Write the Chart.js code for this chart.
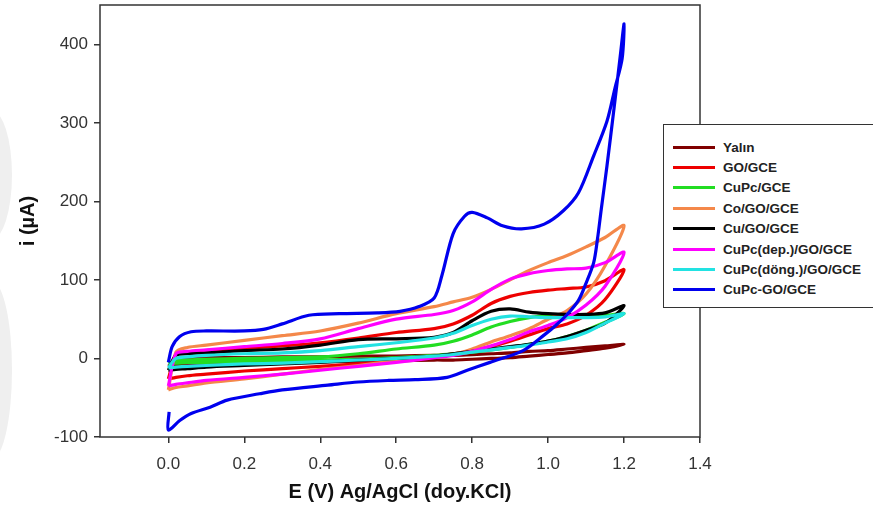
<!DOCTYPE html>
<html>
<head>
<meta charset="utf-8">
<title>CV</title>
<script src="https://cdn.jsdelivr.net/npm/chart.js@4.4.1/dist/chart.umd.min.js"></script>
<style>
  html, body { margin: 0; padding: 0; background: #fff; }
  body { width: 873px; height: 518px; overflow: hidden; position: relative; font-family: "Liberation Sans", Arial, sans-serif; }
  #cv { position: absolute; left: 0; top: 0; }
  .mark { position: absolute; left: -30px; width: 42px; background: #efefef; border-radius: 50%; }
  #legend { position: absolute; left: 663px; top: 124px; width: 230px; height: 184px; box-sizing: border-box;
            border: 1.5px solid #333; background: #fff; padding-top: 12px; }
  #legend .row { display: flex; align-items: center; height: 20.4px; }
  #legend .swatch { width: 42px; height: 3px; margin-left: 9px; margin-right: 8px; }
  #legend .label { font-weight: bold; font-size: 13.5px; color: #222; white-space: nowrap; }
</style>
</head>
<body>
<div class="mark" style="top:110px;height:130px"></div>
<div class="mark" style="top:280px;height:180px"></div>
<canvas id="cv" width="873" height="518"></canvas>
<div id="legend"></div>
<script>
// electrode names, in legend order
const seriesNames = ["Yalın", "GO/GCE", "CuPc/GCE", "Co/GO/GCE", "Cu/GO/GCE",
                     "CuPc(dep.)/GO/GCE", "CuPc(döng.)/GO/GCE", "CuPc-GO/GCE"];
const seriesColors = ["#800000", "#ee0000", "#22dd22", "#f4884a", "#000000",
                      "#ff00ff", "#22e2e2", "#0000ee"];

// potential grid (V): anodic sweep 0 -> 1.2, then back to 0
const forwardE = [0, 0.02, 0.05, 0.1, 0.2, 0.3, 0.4, 0.5, 0.6, 0.7, 0.75, 0.8, 0.85, 0.9, 0.95, 1.0, 1.05, 1.1, 1.15, 1.2];
const reverseE = [1.15, 1.1, 1.05, 1.0, 0.95, 0.9, 0.85, 0.8, 0.75, 0.7, 0.6, 0.5, 0.4, 0.3, 0.2, 0.1, 0.05, 0.02, 0];

// currents (µA) on forwardE / reverseE
const yalinFwd = [-10, -2, 0, 1, 1, 2, 2, 3, 3, 4, 4, 5, 6, 7, 9, 10, 12, 14, 16, 18];
const yalinRev = [13, 10, 7, 5, 3, 1, 0, -1, -2, -2, -3, -4, -4, -5, -6, -7, -8, -9, -10];

const goFwd = [-26, 4, 8, 10, 13, 16, 20, 26, 33, 38, 44, 55, 70, 79, 84, 87, 89, 91, 99, 113];
const goRev = [75, 55, 44, 38, 30, 22, 15, 10, 6, 3, -3, -7, -10, -13, -16, -20, -22, -24, -26];

const cupcFwd = [-6, -3, -2, -1, 0, 1, 2, 6, 12, 17, 22, 30, 40, 47, 52, 55, 55, 55, 55, 57];
const cupcRev = [46, 36, 28, 22, 18, 14, 11, 8, 6, 4, 1, -1, -2, -3, -4, -5, -5, -6, -6];

const coGoFwd = [-40, 8, 14, 17, 23, 29, 35, 45, 57, 66, 72, 78, 88, 100, 112, 122, 131, 142, 154, 169];
const coGoRev = [118, 82, 61, 50, 38, 29, 21, 12, 5, 2, -3, -9, -14, -20, -26, -31, -35, -37, -40];

const cuGoFwd = [-15, 4, 6, 7, 10, 12, 17, 24, 25, 27, 33, 48, 60, 63, 59, 57, 56, 56, 58, 67];
const cuGoRev = [45, 36, 28, 22, 18, 15, 12, 9, 6, 3, 0, -2, -5, -7, -9, -11, -13, -14, -15];

const depFwd = [-35, 6, 9, 11, 15, 19, 25, 38, 50, 56, 61, 72, 88, 101, 108, 112, 114, 115, 122, 135];
const depRev = [92, 68, 52, 42, 34, 24, 16, 9, 4, 1, -5, -10, -15, -20, -24, -28, -31, -33, -35];

const dongFwd = [-12, 0, 2, 4, 6, 7, 10, 15, 20, 26, 32, 42, 50, 54, 53, 52, 52, 52, 53, 57];
const dongRev = [45, 33, 25, 21, 17, 14, 11, 8, 5, 3, 0, -2, -4, -6, -7, -9, -10, -11, -12];

// CuPc-GO/GCE has its own, denser potential grid
const blueFwdE = [0, 0.01, 0.03, 0.06, 0.1, 0.2, 0.25, 0.3, 0.37, 0.45, 0.55, 0.61, 0.66, 0.7, 0.72, 0.75,
                  0.78, 0.8, 0.84, 0.88, 0.93, 0.99, 1.04, 1.08, 1.12, 1.155, 1.176, 1.195, 1.2];
const blueFwdI = [-5, 15, 28, 34, 35, 35, 37, 44, 55, 57, 58, 60, 66, 77, 105, 159,
                  181, 186, 179, 169, 165, 171, 188, 211, 258, 302, 344, 382, 426];
const blueRevE = [1.19, 1.174, 1.155, 1.14, 1.13, 1.12, 1.1, 1.08, 1.05, 1.02, 0.99, 0.934, 0.847, 0.787,
                  0.734, 0.65, 0.58, 0.5, 0.42, 0.3, 0.24, 0.155, 0.11, 0.06, 0.03, 0.0, 0.002];
const blueRevI = [385, 320, 245, 190, 152, 122, 96, 74, 56, 42, 30, 10, -5, -15,
                  -24, -27, -28, -30, -34, -40, -45, -53, -62, -70, -79, -91, -68];

const xTicks = [0, 0.2, 0.4, 0.6, 0.8, 1.0, 1.2, 1.4];
const yTicks = [-100, 0, 100, 200, 300, 400];

function loop(eF, iF, eR, iR) {
  const pts = eF.map((e, k) => ({ x: e, y: iF[k] }));
  eR.forEach((e, k) => pts.push({ x: e, y: iR[k] }));
  return pts;
}

const curves = [
  loop(forwardE, yalinFwd, reverseE, yalinRev),
  loop(forwardE, goFwd, reverseE, goRev),
  loop(forwardE, cupcFwd, reverseE, cupcRev),
  loop(forwardE, coGoFwd, reverseE, coGoRev),
  loop(forwardE, cuGoFwd, reverseE, cuGoRev),
  loop(forwardE, depFwd, reverseE, depRev),
  loop(forwardE, dongFwd, reverseE, dongRev),
  loop(blueFwdE, blueFwdI, blueRevE, blueRevI)
];

const datasets = curves.map((pts, i) => ({
  label: seriesNames[i],
  data: pts,
  showLine: true,
  borderColor: seriesColors[i],
  backgroundColor: seriesColors[i],
  borderWidth: 3.2,
  pointRadius: 0,
  tension: 0.3,
  order: seriesNames.length - i   // later curves sit on top
}));

// box around the plotting area
const frame = {
  id: "frame",
  afterDatasetsDraw(chart) {
    const { ctx, chartArea: a } = chart;
    ctx.save();
    ctx.strokeStyle = "#333";
    ctx.lineWidth = 1.5;
    ctx.strokeRect(a.left, a.top, a.right - a.left, a.bottom - a.top);
    ctx.restore();
  }
};

const tickFont = { family: "'Liberation Sans', Arial, sans-serif", size: 17 };
const titleFont = { family: "'Liberation Sans', Arial, sans-serif", size: 20, weight: "bold" };

const chart = new Chart(document.getElementById("cv"), {
  type: "scatter",
  data: { datasets },
  options: {
    responsive: false,
    animation: false,
    layout: { padding: { left: 0, right: 173, top: 5, bottom: 0 } },
    plugins: { legend: { display: false }, tooltip: { enabled: false } },
    scales: {
      x: {
        type: "linear", min: -0.18, max: 1.4,
        afterBuildTicks: s => { s.ticks = xTicks.map(v => ({ value: v })); },
        afterFit: s => { s.height = 81; s.paddingLeft = 0; s.paddingRight = 0; },
        border: { display: false },
        grid: { drawOnChartArea: false, drawTicks: true, tickLength: 6, color: "#333", lineWidth: 1.5 },
        ticks: { font: tickFont, color: "#333", padding: 11, maxRotation: 0, callback: v => v.toFixed(1) },
        title: { display: true, text: "E (V) Ag/AgCl (doy.KCl)", font: titleFont, color: "#111", padding: { top: 0, bottom: 14 } }
      },
      y: {
        type: "linear", min: -100, max: 450,
        afterBuildTicks: s => { s.ticks = yTicks.map(v => ({ value: v })); },
        afterFit: s => { s.width = 100; s.paddingTop = 0; s.paddingBottom = 0; },
        border: { display: false },
        grid: { drawOnChartArea: false, drawTicks: true, tickLength: 6, color: "#333", lineWidth: 1.5 },
        ticks: { font: tickFont, color: "#333", padding: 6 },
        title: { display: true, text: "i (µA)", font: titleFont, color: "#111", padding: { top: 16, bottom: 0 } }
      }
    }
  },
  plugins: [frame]
});

// legend box, drawn over the right edge of the plot
const legendBox = document.getElementById("legend");
chart.data.datasets.forEach(ds => {
  const row = document.createElement("div");
  row.className = "row";
  row.innerHTML = `<span class="swatch" style="background:${ds.borderColor}"></span><span class="label">${ds.label}</span>`;
  legendBox.appendChild(row);
});
</script>
</body>
</html>
